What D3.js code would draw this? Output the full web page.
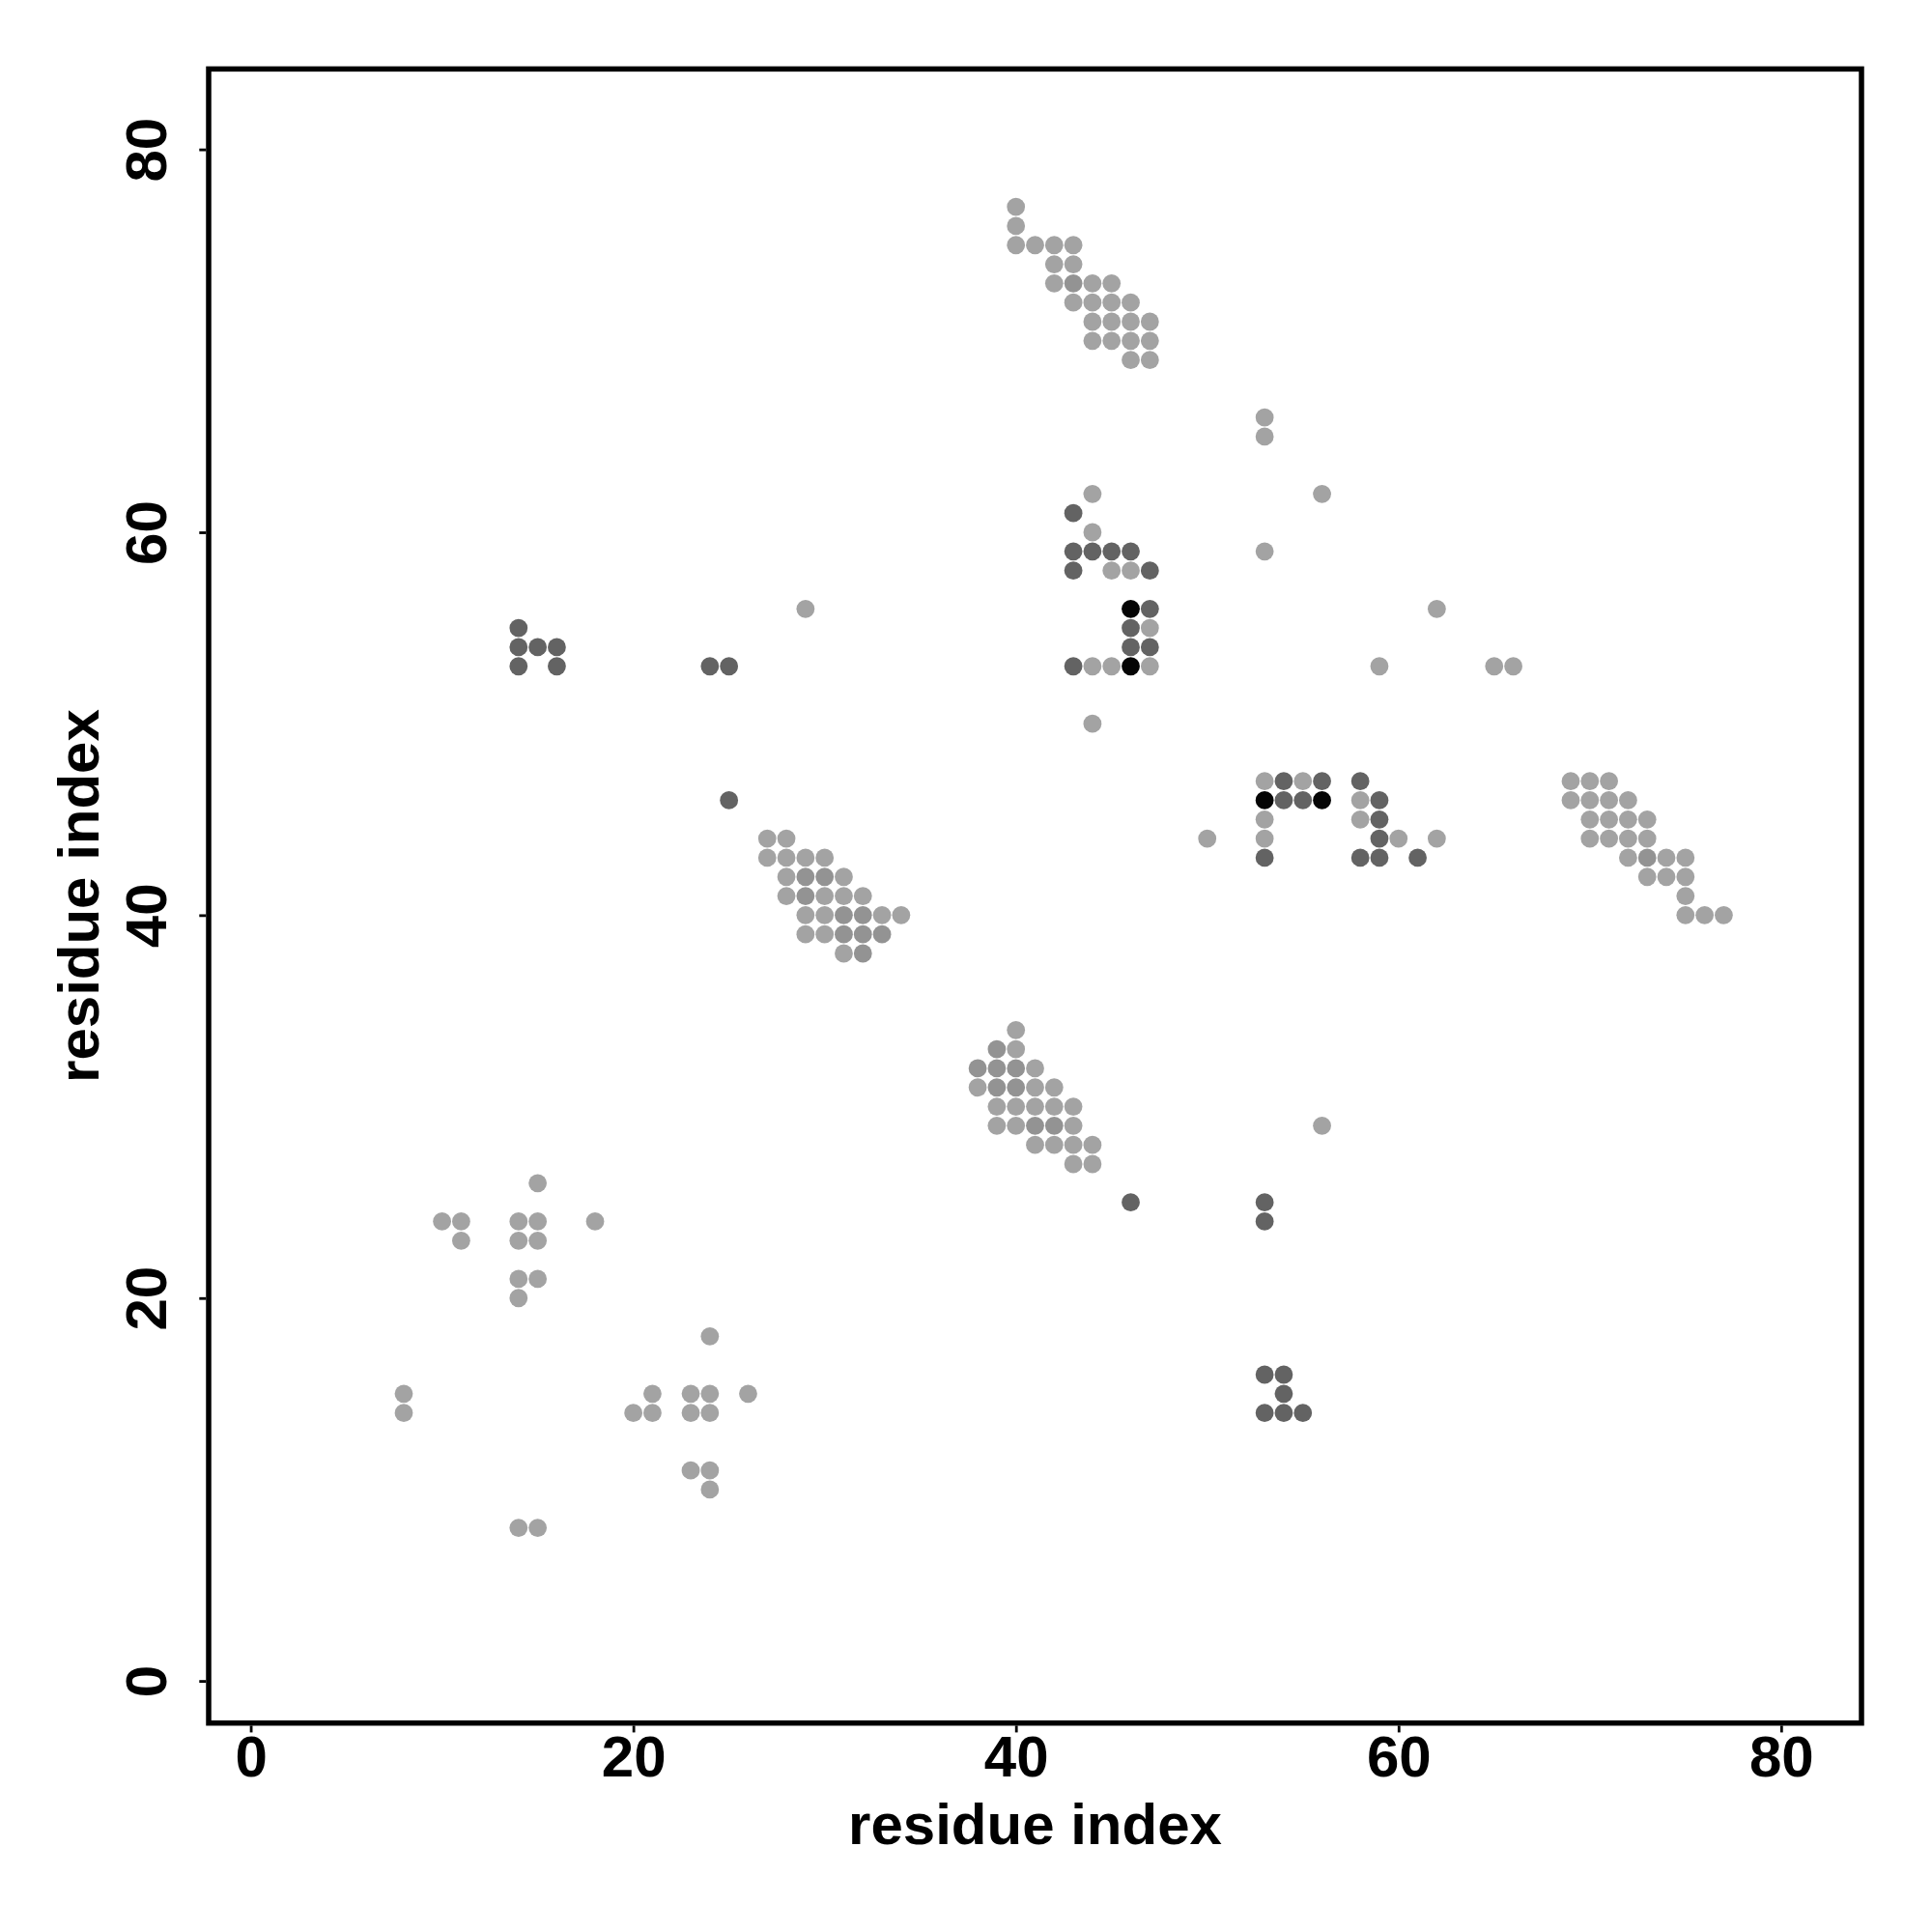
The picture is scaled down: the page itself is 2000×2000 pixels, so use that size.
<!DOCTYPE html>
<html>
<head>
<meta charset="utf-8">
<script src="https://cdn.jsdelivr.net/npm/d3@7"></script>
<style>
  html, body { margin: 0; padding: 0; background: #fff; }
  svg { display: block; }
  text { font-family: "Liberation Sans", Arial, Helvetica, sans-serif; font-weight: bold; }
</style>
</head>
<body>
<svg id="chart" width="2000" height="2000"></svg>
<script>
// ---- data (residue contact map) ----
const contactX = [
  // lower-left cluster
  15,10,11,14,15,18,11,14,15,14,15,14,24,8,21,23,24,26,8,20,21,23,24,23,24,24,14,15,
  // left dark group
  14,14,15,16,14,16,24,25,25,29,
  // cluster around (30,41)
  27,28, 27,28,29,30, 28,29,30,31, 28,29,30,31,32, 29,30,31,32,33,34, 29,30,31,32,33, 31,32,
  // cluster around (41,30)
  40, 39,40, 38,39,40,41, 38,39,40,41,42, 39,40,41,42,43, 39,40,41,42,43, 41,42,43,44, 43,44, 46,
  // top cluster
  40, 40, 40,41,42,43, 42,43, 42,43,44,45, 43,44,45,46, 44,45,46,47, 44,45,46,47, 46,47,
  // middle group
  44,43,44,43,44,45,46,43,45,46,47,46,47,46,47,46,47,43,44,45,46,47,44,
  // group near (55,45)
  53,54,55,56,58, 53,54,55,56,58,59, 53,58,59, 50,53,59,60,62, 53,58,59,61,
  // scattered upper right
  53,53,56,53,62,59,65,66,
  // right cluster
  69,70,71, 69,70,71,72, 70,71,72,73, 70,71,72,73, 72,73,74,75, 73,74,75, 75, 75,76,77,
  // lower right
  56,53,53,53,54,54,53,54,55
];
const contactY = [
  26,24,24,24,24,24,23,23,23,21,21,20,18,15,15,15,15,15,14,14,14,14,14,11,11,10,8,8,
  55,54,54,54,53,53,53,53,46,56,
  44,44, 43,43,43,43, 42,42,42,42, 41,41,41,41,41, 40,40,40,40,40,40, 39,39,39,39,39, 38,38,
  34, 33,33, 32,32,32,32, 31,31,31,31,31, 30,30,30,30,30, 29,29,29,29,29, 28,28,28,28, 27,27, 25,
  77, 76, 75,75,75,75, 74,74, 73,73,73,73, 72,72,72,72, 71,71,71,71, 70,70,70,70, 69,69,
  62,61,60,59,59,59,59,58,58,58,58,56,56,55,55,54,54,53,53,53,53,53,50,
  47,47,47,47,47, 46,46,46,46,46,46, 45,45,45, 44,44,44,44,44, 43,43,43,43,
  66,65,62,59,56,53,53,53,
  47,47,47, 46,46,46,46, 45,45,45,45, 44,44,44,44, 43,43,43,43, 42,42,42, 41, 40,40,40,
  29,25,24,16,16,15,14,14,14
];
// contact level: 1 = weak, 2 = medium, 3 = strong, 4 = strongest
const contactLevel = [
  1,1,1,1,1,1,1,1,1,1,1,1,1,1,1,1,1,1,1,1,1,1,1,1,1,1,1,1,
  3,3,3,3,3,3,3,3,3,1,
  1,1, 1,1,1,1, 1,2,2,1, 1,2,1,1,1, 1,1,2,2,1,1, 1,1,2,2,2, 1,2,
  1, 2,1, 2,2,2,1, 1,2,2,1,1, 1,1,1,1,1, 1,1,2,2,1, 1,1,1,1, 1,1, 3,
  1, 1, 1,1,1,1, 1,1, 1,2,1,1, 1,1,1,1, 1,1,1,1, 1,1,1,1, 1,1,
  1,3,1,3,3,3,3,3,1,1,3,4,3,3,1,3,3,3,1,1,4,1,1,
  1,3,1,3,3, 4,3,3,4,1,3, 1,1,3, 1,1,3,1,1, 3,3,3,3,
  1,1,1,1,1,1,1,1,
  1,1,1, 1,1,1,1, 1,1,1,1, 1,1,1,1, 1,2,1,1, 1,1,1, 1, 1,1,1,
  1,3,3,3,3,3,3,3,3
];
const xTicks = [0, 20, 40, 60, 80];
const yTicks = [0, 20, 40, 60, 80];
const axisTitleX = "residue index";
const axisTitleY = "residue index";
const levelColors = ["#a3a3a3", "#939393", "#636363", "#050505"];

// ---- layout ----
const plotL = 216, plotR = 1927, plotT = 71.4, plotB = 1783.7;
const svg = d3.select("#chart");

const xScale = d3.scaleLinear().domain([-2.2, 84.2]).range([plotL, plotR]);
const yScale = d3.scaleLinear().domain([-2.2, 84.2]).range([plotB, plotT]);

const points = contactX.map((d, i) => ({x: d, y: contactY[i], level: contactLevel[i]}));

// points
svg.append("g")
  .selectAll("circle")
  .data(points)
  .join("circle")
  .attr("cx", d => xScale(d.x))
  .attr("cy", d => yScale(d.y))
  .attr("r", 9.4)
  .attr("fill", d => levelColors[d.level - 1]);

// box
svg.append("rect")
  .attr("x", plotL).attr("y", plotT)
  .attr("width", plotR - plotL).attr("height", plotB - plotT)
  .attr("fill", "none").attr("stroke", "#000").attr("stroke-width", 5.5);

// x axis
const gx = svg.append("g")
  .attr("transform", `translate(0,${plotB + 2.7})`)
  .call(d3.axisBottom(xScale).tickValues(xTicks).tickSizeInner(7).tickSizeOuter(0).tickPadding(0));
gx.select(".domain").remove();
gx.selectAll(".tick line").attr("stroke", "#000").attr("stroke-width", 2.8);
gx.selectAll(".tick text")
  .attr("y", 52.5).attr("dy", 0)
  .attr("font-size", 60)
  .attr("font-family", "'Liberation Sans', Arial, sans-serif")
  .attr("font-weight", "bold")
  .attr("fill", "#000");

// y axis
const gy = svg.append("g")
  .attr("transform", `translate(${plotL - 2.7},0)`)
  .call(d3.axisLeft(yScale).tickValues(yTicks).tickSizeInner(7).tickSizeOuter(0).tickPadding(0));
gy.select(".domain").remove();
gy.selectAll(".tick line").attr("stroke", "#000").attr("stroke-width", 2.8);
gy.selectAll(".tick text")
  .attr("x", 0).attr("y", -41).attr("dy", 0)
  .attr("transform", "rotate(-90)")
  .attr("text-anchor", "middle")
  .attr("font-size", 60)
  .attr("font-family", "'Liberation Sans', Arial, sans-serif")
  .attr("font-weight", "bold")
  .attr("fill", "#000");

// axis titles
svg.append("text")
  .attr("x", (plotL + plotR) / 2).attr("y", 1909)
  .attr("text-anchor", "middle")
  .attr("font-size", 60)
  .text(axisTitleX);

svg.append("text")
  .attr("transform", `translate(102,${(plotT + plotB) / 2}) rotate(-90)`)
  .attr("text-anchor", "middle")
  .attr("font-size", 60)
  .text(axisTitleY);
</script>
</body>
</html>
